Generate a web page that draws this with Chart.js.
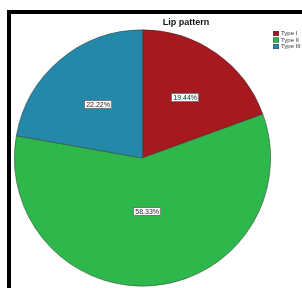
<!DOCTYPE html>
<html>
<head>
<meta charset="utf-8">
<script src="https://cdn.jsdelivr.net/npm/chart.js@4/dist/chart.umd.min.js"></script>
<style>
html,body{margin:0;padding:0;background:#fff;}
canvas{display:block;}
</style>
</head>
<body>
<canvas id="c" width="302" height="288"></canvas>
<script>
const chartTitle = "Lip pattern";
const categories = ["Type I", "Type II", "Type III"];
const percentages = [19.44, 58.33, 22.22];
const sliceColors = ["#a5191f", "#2eb84b", "#2488a8"];

// radial position of each percent label, as a fraction of the radius
const labelRadiusFactor = [0.58, 0.42, 0.54];

const decorPlugin = {
  id: 'decor',
  beforeDraw(chart) {
    const ctx = chart.ctx;
    ctx.save();
    ctx.fillStyle = '#fff';
    ctx.fillRect(0, 0, chart.width, chart.height);
    ctx.fillStyle = '#000';
    ctx.fillRect(7, 10, 4, chart.height - 10);
    ctx.fillRect(7, 10, chart.width - 7, 4);
    ctx.restore();
  },
  afterDraw(chart) {
    const ctx = chart.ctx;
    ctx.save();
    // title
    ctx.fillStyle = '#111';
    ctx.font = 'bold 9px "Liberation Sans", Arial, sans-serif';
    ctx.textAlign = 'center';
    ctx.textBaseline = 'middle';
    ctx.fillText(chartTitle, 186, 23);

    // legend
    const ds = chart.data.datasets[0];
    ctx.font = '6px "Liberation Sans", Arial, sans-serif';
    ctx.textAlign = 'left';
    chart.data.labels.forEach((lab, i) => {
      const y = 31 + i * 6.5;
      ctx.fillStyle = ds.backgroundColor[i];
      ctx.fillRect(273, y, 6, 5);
      ctx.strokeStyle = '#444';
      ctx.lineWidth = 0.5;
      ctx.strokeRect(273.25, y + 0.25, 5.5, 4.5);
      ctx.fillStyle = '#333';
      ctx.fillText(lab, 281, y + 2.6);
    });

    // percent labels
    const meta = chart.getDatasetMeta(0);
    ctx.font = '7px "Liberation Sans", Arial, sans-serif';
    ctx.textAlign = 'center';
    meta.data.forEach((arc, i) => {
      const p = arc.getProps(['x', 'y', 'startAngle', 'endAngle', 'outerRadius'], true);
      const mid = (p.startAngle + p.endAngle) / 2;
      const r = p.outerRadius * labelRadiusFactor[i];
      const cx = p.x + Math.cos(mid) * r;
      const cy = p.y + Math.sin(mid) * r;
      const txt = chart.data.datasets[0].data[i].toFixed(2) + '%';
      const w = ctx.measureText(txt).width + 4;
      const h = 9;
      ctx.fillStyle = '#fff';
      ctx.fillRect(Math.round(cx - w / 2), Math.round(cy - h / 2), w, h);
      ctx.strokeStyle = '#555';
      ctx.lineWidth = 0.8;
      ctx.strokeRect(Math.round(cx - w / 2) + 0.5, Math.round(cy - h / 2) + 0.5, w - 1, h - 1);
      ctx.fillStyle = '#222';
      ctx.fillText(txt, cx, cy + 0.5);
    });
    ctx.restore();
  }
};

new Chart(document.getElementById('c'), {
  type: 'pie',
  data: {
    labels: categories,
    datasets: [{
      data: percentages,
      backgroundColor: sliceColors,
      borderColor: 'rgba(50,50,50,0.7)',
      borderWidth: 0.7
    }]
  },
  options: {
    responsive: false,
    animation: false,
    devicePixelRatio: 1,
    layout: { padding: { left: 14, right: 31, top: 29, bottom: 1 } },
    plugins: {
      legend: { display: false },
      title: { display: false },
      tooltip: { enabled: false }
    }
  },
  plugins: [decorPlugin]
});
</script>
</body>
</html>
